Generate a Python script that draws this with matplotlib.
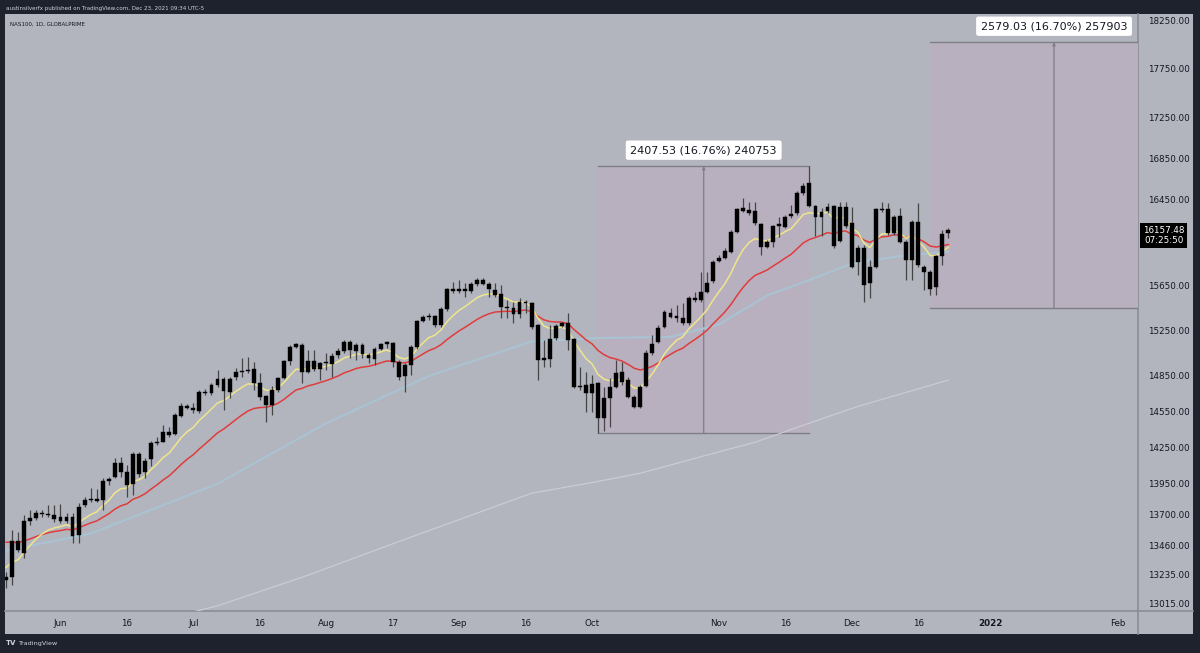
import numpy as np
import pandas as pd
import matplotlib
matplotlib.use("Agg")
import matplotlib.pyplot as plt
from matplotlib.patches import Rectangle
from matplotlib.ticker import FixedLocator, NullLocator, FuncFormatter

# ---------------- data ----------------
start_date = "2021-05-19"
opens = [13192, 13215, 13493, 13400, 13650, 13674, 13714, 13706, 13698, 13682,
         13650, 13682, 13540, 13778, 13818, 13826, 13818, 13971, 14003, 14117,
         14044, 13947, 14191, 14044, 14150, 14282, 14290, 14374, 14357, 14508,
         14592, 14575, 14550, 14710, 14701, 14770, 14822, 14710, 14839, 14882,
         14890, 14907, 14787, 14677, 14600, 14727, 14830, 14977, 15099, 15117,
         14882, 14977, 14907, 14960, 14951, 15030, 15064, 15143, 15064, 15117,
         15030, 14994, 15082, 15126, 15134, 14968, 14847, 14942, 15099, 15329,
         15365, 15374, 15293, 15436, 15616, 15598, 15616, 15598, 15661, 15698,
         15661, 15607, 15571, 15454, 15445, 15391, 15499, 15490, 15293, 14986,
         14994, 15178, 15284, 15311, 15170, 14753, 14770, 14701, 14787, 14491,
         14660, 14753, 14882, 14813, 14668, 14584, 14761, 15047, 15143, 15276,
         15400, 15356, 15356, 15311, 15535, 15517, 15589, 15689, 15872, 15900,
         15955, 16140, 16338, 16348, 16338, 16215, 16001, 16047, 16196, 16187,
         16310, 16320, 16509, 16606, 16386, 16281, 16338, 16386, 16057, 16376,
         16225, 15863, 15991, 15670, 15817, 16357, 16357, 16131, 16290, 16047,
         15881, 16234, 15817, 15771, 15634, 15918, 16131]
highs = [13253, 13580, 13564, 13698, 13738, 13738, 13738, 13778, 13778, 13786,
         13714, 13714, 13794, 13842, 13914, 13906, 13995, 14003, 14158, 14166,
         14101, 14207, 14207, 14158, 14298, 14332, 14432, 14415, 14533, 14617,
         14609, 14617, 14727, 14735, 14787, 14899, 14839, 14839, 14916, 15003,
         15012, 14968, 14873, 14685, 14761, 14839, 14986, 15117, 15134, 15134,
         15073, 15073, 14968, 15047, 15047, 15090, 15161, 15161, 15134, 15134,
         15047, 15099, 15134, 15152, 15143, 14986, 14960, 15117, 15338, 15382,
         15400, 15382, 15454, 15625, 15680, 15698, 15670, 15680, 15716, 15716,
         15680, 15670, 15652, 15517, 15499, 15535, 15517, 15499, 15302, 15161,
         15293, 15302, 15320, 15400, 15178, 14925, 14882, 14856, 14796, 14753,
         14830, 14986, 14968, 14839, 14685, 14770, 15073, 15205, 15293, 15427,
         15445, 15472, 15490, 15553, 15589, 15771, 15771, 15881, 15927, 15991,
         16159, 16367, 16462, 16424, 16424, 16225, 16066, 16206, 16281, 16300,
         16395, 16528, 16606, 16772, 16395, 16367, 16414, 16395, 16424, 16424,
         16376, 16019, 16019, 15881, 16367, 16424, 16414, 16300, 16367, 16066,
         16253, 16414, 15835, 15789, 15927, 16159, 16178]
lows = [13130, 13154, 13407, 13361, 13619, 13658, 13682, 13682, 13642, 13634,
        13634, 13478, 13478, 13762, 13802, 13802, 13738, 13939, 13995, 14003,
        13842, 13858, 14003, 13995, 14093, 14266, 14290, 14332, 14349, 14499,
        14567, 14533, 14533, 14685, 14685, 14753, 14558, 14660, 14813, 14839,
        14873, 14727, 14643, 14457, 14516, 14710, 14822, 14942, 15090, 14787,
        14873, 14890, 14813, 14899, 14839, 15003, 15047, 15003, 14986, 15003,
        14960, 14942, 15073, 15090, 14925, 14813, 14710, 14856, 15082, 15320,
        15338, 15276, 15276, 15418, 15580, 15580, 15544, 15580, 15643, 15652,
        15544, 15544, 15356, 15356, 15311, 15356, 15400, 15258, 14813, 14925,
        14925, 15161, 15276, 15073, 14744, 14727, 14541, 14541, 14365, 14385,
        14415, 14744, 14770, 14660, 14575, 14575, 14753, 15030, 15134, 15267,
        15356, 15320, 15293, 15293, 15499, 15499, 15580, 15670, 15863, 15891,
        15945, 16131, 16329, 16300, 16206, 15927, 15991, 16001, 16094, 16178,
        16272, 16300, 16490, 16376, 16103, 16103, 16320, 15991, 16047, 16178,
        15807, 15744, 15499, 15535, 15807, 16329, 16112, 16112, 16038, 15698,
        15698, 15817, 15607, 15562, 15562, 15835, 16084]
closes = [13215, 13493, 13423, 13650, 13674, 13714, 13706, 13698, 13666, 13650,
          13682, 13533, 13762, 13818, 13826, 13810, 13971, 13987, 14117, 14044,
          13939, 14191, 14028, 14133, 14282, 14290, 14374, 14349, 14516, 14592,
          14575, 14558, 14710, 14701, 14770, 14822, 14718, 14822, 14882, 14890,
          14899, 14787, 14668, 14600, 14727, 14830, 14977, 15099, 15126, 14882,
          14977, 14907, 14960, 14968, 15021, 15064, 15143, 15073, 15117, 15038,
          15003, 15082, 15126, 15143, 14968, 14839, 14942, 15099, 15329, 15365,
          15374, 15293, 15436, 15616, 15598, 15616, 15598, 15661, 15698, 15661,
          15616, 15562, 15454, 15445, 15391, 15499, 15490, 15276, 14986, 15003,
          15170, 15284, 15311, 15161, 14753, 14761, 14701, 14778, 14491, 14660,
          14753, 14873, 14796, 14668, 14584, 14753, 15047, 15126, 15267, 15409,
          15365, 15374, 15311, 15535, 15517, 15589, 15670, 15863, 15900, 15964,
          16140, 16357, 16367, 16320, 16225, 16001, 16047, 16196, 16215, 16281,
          16290, 16509, 16577, 16386, 16281, 16329, 16376, 16010, 16376, 16196,
          15817, 15991, 15652, 15817, 16357, 16348, 16131, 16281, 16047, 15881,
          16234, 15835, 15771, 15616, 15918, 16122, 16157.48]

# moving-average seeds read at the first bar
ema_fast_period, ema_fast_seed = 9, 13290
ema_slow_period, ema_slow_seed = 21, 13485
# slower averages (bar index, value)
ma50_bars = [0, 14, 35, 53, 70, 87, 97, 110, 118, 126, 133, 140, 148, 156]
ma50_vals = [13420, 13553, 13950, 14449, 14850, 15150, 15180, 15190, 15300, 15560,
             15700, 15850, 15920, 15960]
ma200_bars = [30, 35, 50, 65, 87, 97, 105, 119, 124, 133, 141, 156]
ma200_vals = [12940, 12997, 13230, 13490, 13874, 13960, 14036, 14224, 14290, 14450,
              14590, 14815]

price_ticks = [18250, 17750, 17250, 16850, 16450, 15650, 15250, 14850, 14550,
               14250, 13950, 13700, 13460, 13235, 13015]
time_tick_dates = ["2021-06-01", "2021-06-16", "2021-07-01", "2021-07-16", "2021-08-02",
                   "2021-08-17", "2021-09-01", "2021-09-16", "2021-10-01", "2021-11-01",
                   "2021-11-16", "2021-12-01", "2021-12-16", "2022-01-03", "2022-02-01"]
time_tick_labels = ["Jun", "16", "Jul", "16", "Aug", "17", "Sep", "16", "Oct", "Nov",
                    "16", "Dec", "16", "2022", "Feb"]

box1 = dict(start="2021-10-04", end="2021-11-22", low=14364.50, high=16772.03,
            text="2407.53 (16.76%) 240753")
box2 = dict(start="2021-12-20", end="2022-02-15", low=15442.97, high=18022.00,
            text="2579.03 (16.70%) 257903")
last_price = closes[-1]
countdown = "07:25:50"
header = "austinsilverfx published on TradingView.com, Dec 23, 2021 09:34 UTC-5"
title = "NAS100, 1D, GLOBALPRIME"

# ---------------- helpers ----------------
dates = pd.bdate_range(start_date, periods=260)
def bar_of(d):
    return int(dates.get_loc(pd.Timestamp(d)))

def ema(vals, period, seed):
    a = 2.0 / (period + 1)
    out = [seed]
    for v in vals[1:]:
        out.append(out[-1] + a * (v - out[-1]))
    return np.array(out)

n = len(closes)
xs = np.arange(n)

# ---------------- figure ----------------
W, H = 1200, 653
fig = plt.figure(figsize=(W / 100, H / 100), dpi=100)
fig.patch.set_facecolor("#1e222d")
BG = "#b2b5be"

def fx(px):
    return px / W

def fy(py):
    return 1 - py / H

# panel background (chart + axes area)
bgax = fig.add_axes([0, 0, 1, 1], zorder=-5)
bgax.set_axis_off()
bgax.set_xlim(0, W); bgax.set_ylim(H, 0)
bgax.add_patch(Rectangle((5, 14), 1193 - 5, 634 - 14, facecolor=BG, edgecolor="none"))
bgax.plot([1138, 1138], [14, 634], color="#8a8d95", lw=1.2)
bgax.plot([5, 1193], [611, 611], color="#8a8d95", lw=1.2)

L, R, T, B = 5, 1138, 14, 611
ax = fig.add_axes([fx(L), fy(B), fx(R) - fx(L), fy(T) - fy(B)], zorder=2)
ax.set_facecolor("none")
ax.set_yscale("log")
ax.set_ylim(12958, 18319)
x_left = (L - 6.1) / 6.04
x_right = (R - 6.1) / 6.04
ax.set_xlim(x_left, x_right)

# boxes
for bx in (box1, box2):
    x0 = bar_of(bx["start"])
    x1 = bar_of(bx["end"])
    ax.add_patch(Rectangle((x0, bx["low"]), x1 - x0, bx["high"] - bx["low"],
                           facecolor="#b9b0bf", edgecolor="none", zorder=1))
    ax.plot([x0, x1], [bx["low"], bx["low"]], color="#7d7e86", lw=1.0, zorder=2)
    ax.plot([x0, x1], [bx["high"], bx["high"]], color="#7d7e86", lw=1.0, zorder=2)
    xm = (x0 + x1) / 2
    ax.annotate("", xy=(xm, bx["high"]), xytext=(xm, bx["low"]),
                arrowprops=dict(arrowstyle="-|>", color="#7d7e86", lw=0.9,
                                mutation_scale=4, shrinkA=0, shrinkB=0), zorder=2)
    ax.annotate(bx["text"], xy=(xm, bx["high"]), xytext=(0, 11.5),
                textcoords="offset points", ha="center", va="center",
                fontsize=8.0, color="#131722", zorder=6, annotation_clip=False,
                bbox=dict(boxstyle="round,pad=0.42,rounding_size=0.2", fc="white", ec="none"))

# moving averages
ax.plot(ma200_bars, ma200_vals, color="#c9ccd3", lw=0.9, zorder=2)
ax.plot(ma50_bars, ma50_vals, color="#a9c3d2", lw=1.5, zorder=2)
ax.plot(xs, ema(closes, ema_slow_period, ema_slow_seed), color="#e03c3c", lw=1.1, zorder=3)
ax.plot(xs, ema(closes, ema_fast_period, ema_fast_seed), color="#efe58c", lw=1.1, zorder=3)

# candles
o = np.array(opens, float); c = np.array(closes, float)
hi = np.array(highs, float); lo = np.array(lows, float)
ax.vlines(xs, lo, hi, color="#454545", lw=0.9, zorder=4)
bot = np.minimum(o, c)
top = np.maximum(o, c)
top = np.maximum(top, bot * 1.0008)
ax.bar(xs, top - bot, bottom=bot, width=0.64, color="black", edgecolor="black",
       linewidth=0.3, zorder=5)

# axes styling
for s in ax.spines.values():
    s.set_visible(False)
ax.yaxis.tick_right()
ax.yaxis.set_major_locator(FixedLocator(price_ticks))
ax.yaxis.set_minor_locator(NullLocator())
ax.yaxis.set_major_formatter(FuncFormatter(lambda v, p: f"{v:.2f}"))
ax.tick_params(axis="y", length=0, pad=7, labelsize=6.3, labelcolor="#131722")
ax.set_xticks([bar_of(d) for d in time_tick_dates])
ax.set_xticklabels(time_tick_labels)
ax.tick_params(axis="x", length=0, pad=6, labelsize=6.3, labelcolor="#131722")
for lab in ax.get_xticklabels():
    if lab.get_text() == "2022":
        lab.set_fontweight("bold")

# last price label
ax.annotate(f"{last_price:.2f}\n{countdown}", xy=(1.0, last_price),
            xycoords=("axes fraction", "data"), xytext=(18.5, -3.5),
            textcoords="offset points", ha="center", va="center", fontsize=6.3,
            color="white", linespacing=1.15, annotation_clip=False, zorder=7,
            bbox=dict(boxstyle="square,pad=0.3", fc="black", ec="none"))

# texts
fig.text(fx(6), fy(8.5), header, fontsize=4.0, color="#d1d4dc", va="center", ha="left")
fig.text(fx(10), fy(24), title, fontsize=4.0, color="#131722", va="center", ha="left")
fig.text(fx(6), fy(643), "TV", fontsize=5, color="#d1d4dc", va="center", ha="left",
         fontweight="bold")
fig.text(fx(18), fy(643), "TradingView", fontsize=4.6, color="#d1d4dc", va="center", ha="left")

fig.savefig("out.png", dpi=100, facecolor=fig.get_facecolor())
